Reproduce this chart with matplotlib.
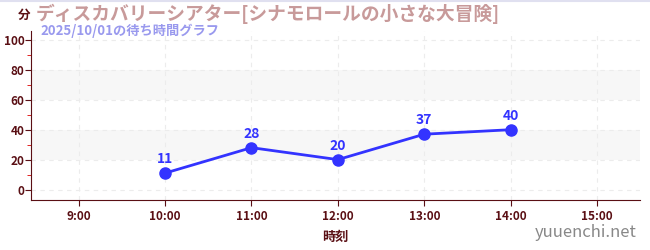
import matplotlib
matplotlib.use("Agg")
import matplotlib.pyplot as plt
from matplotlib.ticker import MultipleLocator

plt.rcParams['font.family'] = ['Noto Sans CJK JP', 'DejaVu Sans']

hours = [9, 10, 11, 12, 13, 14, 15]
hour_labels = ["9:00", "10:00", "11:00", "12:00", "13:00", "14:00", "15:00"]
wait_hours = [10, 11, 12, 13, 14]
wait_minutes = [11, 28, 20, 37, 40]

title = "ディスカバリーシアター[シナモロールの小さな大冒険]"
subtitle = "2025/10/01の待ち時間グラフ"

dark = "#5a0f14"

fig = plt.figure(figsize=(6.5, 2.5), dpi=100)
ax = fig.add_axes([0.048, 0.2, 0.937, 0.676])

# light bands
for lo, hi in [(20, 40), (60, 80)]:
    ax.axhspan(lo, hi, color="#f7f7f7", zorder=0, lw=0)

ax.grid(True, ls=(0, (4, 4)), color="#ececec", lw=0.8, zorder=0)

ax.plot(wait_hours, wait_minutes, color="#3333ff", lw=2, marker="o", ms=8, zorder=3)
for x, y in zip(wait_hours, wait_minutes):
    ax.annotate(str(y), (x, y), xytext=(0, 5), textcoords="offset points",
                ha="center", va="bottom", color="#3333ff", fontsize=10, fontweight="bold")

ax.set_xlim(8.45, 15.5)
ax.set_ylim(-7, 106)
ax.set_xticks(hours)
ax.set_xticklabels(hour_labels)
ax.set_yticks([0, 20, 40, 60, 80, 100])
ax.yaxis.set_minor_locator(MultipleLocator(10))
ax.tick_params(axis="both", colors=dark, labelsize=8.5, length=4)
ax.tick_params(axis="y", which="minor", colors="#dd0000", length=3)
ax.tick_params(axis="y", which="major", pad=1)
for lbl in ax.get_xticklabels() + ax.get_yticklabels():
    lbl.set_color(dark)
    lbl.set_fontweight("bold")

for s in ["top", "right"]:
    ax.spines[s].set_visible(False)
for s in ["left", "bottom"]:
    ax.spines[s].set_color(dark)

ax.set_xlabel("時刻", color=dark, fontsize=9.5, fontweight="bold", labelpad=5)

fig.text(0.028, 0.94, "分", color=dark, fontsize=9, fontweight="bold", va="center")
fig.text(0.055, 0.945, title, color="#c89a9a", fontsize=13.5, fontweight="bold", va="center")
fig.text(0.063, 0.875, subtitle, color="#9999ee", fontsize=9.5, fontweight="bold", va="center")
fig.text(0.98, 0.07, "yuuenchi.net", color="#888888", fontsize=12, ha="right", va="center")

fig.add_artist(plt.Line2D([0, 1], [0.995, 0.995], color="#e0e0f0", lw=1.5))

fig.savefig("out.png", dpi=100)
